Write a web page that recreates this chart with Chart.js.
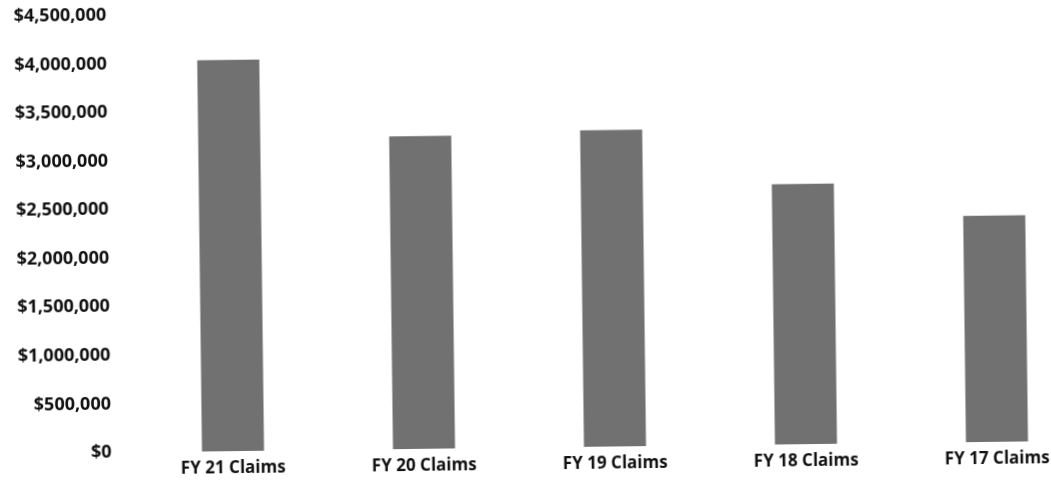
<!DOCTYPE html>
<html>
<head>
<meta charset="utf-8">
<script src="https://cdn.jsdelivr.net/npm/chart.js@4/dist/chart.umd.min.js"></script>
<style>
  html, body { margin: 0; padding: 0; background: #fff; overflow: hidden; }
  #wrap { width: 1051px; height: 490px; overflow: hidden; position: relative; }
  #claims { position: absolute; left: -4px; top: 0; transform-origin: 0 0; transform: rotate(-0.7deg); }
</style>
</head>
<body>
<div id="wrap"><canvas id="claims" width="1095" height="490"></canvas></div>
<script>
// Claims paid by fiscal year
const categories = ['FY 21 Claims', 'FY 20 Claims', 'FY 19 Claims', 'FY 18 Claims', 'FY 17 Claims'];
const claimTotals = [4030000, 3220000, 3260000, 2680000, 2330000];
const yTicks = [0, 500000, 1000000, 1500000, 2000000, 2500000, 3000000, 3500000, 4000000, 4500000];

const fmtDollars = v => '$' + Number(v).toLocaleString('en-US');
const valueFont = { family: '"Open Sans", sans-serif', size: 18, weight: 'bold' };
const categoryFont = { family: '"Open Sans", sans-serif', size: 17, weight: 'bold' };

new Chart(document.getElementById('claims'), {
  type: 'bar',
  data: {
    labels: categories,
    datasets: [{
      data: claimTotals,
      backgroundColor: '#717171',
      borderWidth: 0,
      barPercentage: 1,
      categoryPercentage: 0.325
    }]
  },
  options: {
    responsive: false,
    animation: false,
    layout: { autoPadding: false, padding: { top: 17, right: 4, bottom: 0, left: 0 } },
    plugins: { legend: { display: false }, tooltip: { enabled: false } },
    scales: {
      x: {
        grid: { display: false, drawTicks: false },
        border: { display: false },
        ticks: { color: '#111', font: categoryFont, padding: 7, maxRotation: 0, autoSkip: false },
        afterFit: s => { s.height = 36; }
      },
      y: {
        min: 0,
        max: 4500000,
        grid: { display: false, drawTicks: false },
        border: { display: false },
        afterBuildTicks: s => { s.ticks = yTicks.map(v => ({ value: v })); },
        ticks: { color: '#111', font: valueFont, padding: 26, callback: fmtDollars },
        afterFit: s => { s.width = 136; s.paddingTop = 0; s.paddingBottom = 0; }
      }
    }
  }
});
</script>
</body>
</html>
